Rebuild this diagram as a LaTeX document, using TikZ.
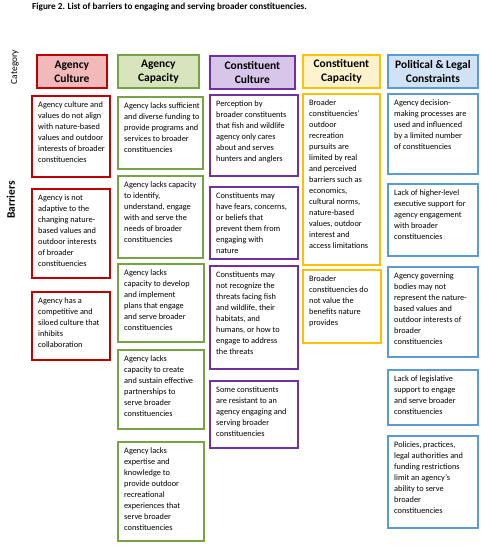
\documentclass[tikz,border=0pt]{standalone}
\usepackage{fontspec}
\setmainfont{Carlito}
\usepackage{xcolor}

\definecolor{redline}{HTML}{C00000}
\definecolor{redfill}{HTML}{F2B9BA}
\definecolor{greenline}{HTML}{77A346}
\definecolor{greenfill}{HTML}{D8E4BD}
\definecolor{purpleline}{HTML}{7030A0}
\definecolor{purplefill}{HTML}{D8C6EA}
\definecolor{yellowline}{HTML}{FFC000}
\definecolor{yellowfill}{HTML}{FFF2CC}
\definecolor{blueline}{HTML}{5B9BD5}
\definecolor{bluefill}{HTML}{D0E2F3}

\newcommand{\cellfont}{\fontsize{8.3}{11}\selectfont}
\newcommand{\headfont}{\fontsize{11.5}{14}\selectfont\bfseries}

% box with top-aligned text: name, colour, x, y, width, height, text
\newcommand{\barrier}[7]{%
  \node[cell, draw=#2, minimum width=#5pt, minimum height=#6pt] (#1) at (#3,#4) {};
  \node[celltext] (#1-text) at ([xshift=7pt]#1.north west) {\rule{0pt}{12.5pt}#7};}

\begin{document}
\begin{tikzpicture}[
  x=1pt, y=-1pt,
  head/.style={draw, line width=1.8pt, align=center, font=\headfont,
    anchor=north west, inner sep=0pt, minimum height=33pt},
  cell/.style={line width=2pt, anchor=north west, inner sep=0pt},
  celltext/.style={anchor=north west, inner sep=0pt, align=left, font=\cellfont},
  axis/.style={rotate=90, inner sep=0pt}
]
\useasboundingbox (0,0) rectangle (480,547);

\node[anchor=base west, inner sep=0pt, font=\fontsize{9.2}{11}\selectfont\bfseries]
  (title) at (32,9) {Figure 2. List of barriers to engaging and serving broader constituencies.};

\node[axis, font=\fontsize{9.4}{11}\selectfont] (category) at (15,67) {Category};
\node[axis, font=\headfont] (barriers) at (11,200) {Barriers};

% category headers
\node[head, draw=redline, fill=redfill, minimum width=70pt] (agcult) at (36,54) {Agency\\Culture};
\node[head, draw=greenline, fill=greenfill, minimum width=81pt] (agcap) at (117,54) {Agency\\Capacity};
\node[head, draw=purpleline, fill=purplefill, minimum width=85pt] (cocult) at (209,55) {Constituent\\Culture};
\node[head, draw=yellowline, fill=yellowfill, minimum width=77pt] (cocap) at (302,54) {Constituent\\Capacity};
\node[head, draw=blueline, fill=bluefill, minimum width=90pt] (polleg) at (387,54) {Political \& Legal\\Constraints};

% agency culture
\barrier{ac1}{redline}{31}{95}{78}{81}{Agency culture and\\values do not align\\with nature-based\\values and outdoor\\interests of broader\\constituencies}
\barrier{ac2}{redline}{31}{188}{78}{89}{Agency is not\\adaptive to the\\changing nature-\\based values and\\outdoor interests\\of broader\\constituencies}
\barrier{ac3}{redline}{31}{291}{78}{68}{Agency has a\\competitive and\\siloed culture that\\inhibits\\collaboration}

% agency capacity
\barrier{ag1}{greenline}{117}{96}{85}{72}{Agency lacks sufficient\\and diverse funding to\\provide programs and\\services to broader\\constituencies}
\barrier{ag2}{greenline}{117}{175}{85}{82}{Agency lacks capacity\\to identify,\\understand, engage\\with and serve the\\needs of broader\\constituencies}
\barrier{ag3}{greenline}{117}{263}{86}{78}{Agency lacks\\capacity to develop\\and implement\\plans that engage\\and serve broader\\constituencies}
\barrier{ag4}{greenline}{117}{349}{86}{79}{Agency lacks\\capacity to create\\and sustain effective\\partnerships to\\serve broader\\constituencies}
\barrier{ag5}{greenline}{117}{441}{86}{99}{Agency lacks\\expertise and\\knowledge to\\provide outdoor\\recreational\\experiences that\\serve broader\\constituencies}

% constituent culture
\barrier{cc1}{purpleline}{209}{94}{88}{81}{Perception by\\broader constituents\\that fish and wildlife\\agency only cares\\about and serves\\hunters and anglers}
\barrier{cc2}{purpleline}{209}{186}{88}{72}{Constituents may\\have fears, concerns,\\or beliefs that\\prevent them from\\engaging with\\nature}
\barrier{cc3}{purpleline}{209}{265}{88}{103}{Constituents may\\not recognize the\\threats facing fish\\and wildlife, their\\habitats, and\\humans, or how to\\engage to address\\the threats}
\barrier{cc4}{purpleline}{209}{380}{88}{67}{Some constituents\\are resistant to an\\agency engaging and\\serving broader\\constituencies}

% constituent capacity
\barrier{kc1}{yellowline}{302}{93}{77}{171}{Broader\\constituencies'\\outdoor\\recreation\\pursuits are\\limited by real\\and perceived\\barriers such as\\economics,\\cultural norms,\\nature-based\\values, outdoor\\interest and\\access limitations}
\barrier{kc2}{yellowline}{302}{269}{78}{73}{Broader\\constituencies do\\not value the\\benefits nature\\provides}

% political & legal constraints
\barrier{pl1}{blueline}{387}{93}{90}{80}{Agency decision-\\making processes are\\used and influenced\\by a limited number\\of constituencies}
\barrier{pl2}{blueline}{387}{183}{90}{72}{Lack of higher-level\\executive support for\\agency engagement\\with broader\\constituencies}
\barrier{pl3}{blueline}{387}{266}{90}{90}{Agency governing\\bodies may not\\represent the nature-\\based values and\\outdoor interests of\\broader\\constituencies}
\barrier{pl4}{blueline}{387}{369}{90}{55}{Lack of legislative\\support to engage\\and serve broader\\constituencies}
\barrier{pl5}{blueline}{387}{435}{90}{92}{Policies, practices,\\legal authorities and\\funding restrictions\\limit an agency's\\ability to serve\\broader\\constituencies}
\end{tikzpicture}
\end{document}
